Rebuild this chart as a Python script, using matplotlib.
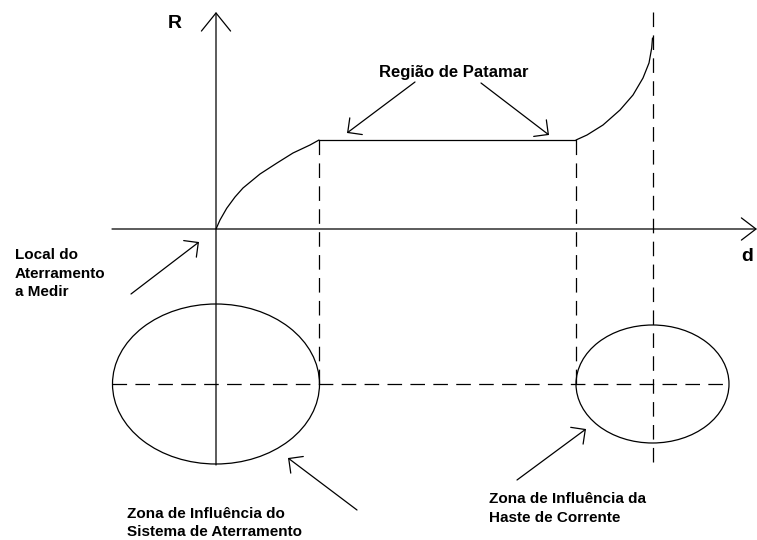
import matplotlib
matplotlib.use("Agg")
import matplotlib.pyplot as plt
from matplotlib.patches import Ellipse

plt.rcParams['lines.scale_dashes'] = False
FONT = ['Liberation Sans', 'DejaVu Sans']

# ---- data (diagram units: d to the right, R upwards, origin at axes crossing) ----
rise_d = [0, 4, 10.7, 19, 27, 44, 61, 77, 94, 103]
rise_R = [0, 9, 20.7, 32, 41, 55, 66, 76, 84, 89]
plateau_d = [103, 360]
plateau_R = [89, 89]
end_d = [360, 371, 387, 404, 417, 427, 433, 435.7, 436.5]
end_R = [89, 94, 104, 119, 134, 151, 166, 181, 191]

zone_ground = dict(center=(0, -155), width=207, height=160)
zone_rod = dict(center=(436.5, -155), width=153, height=118)

axis_label_R = "R"
axis_label_d = "d"
label_plateau = "Região de Patamar"
label_local = "Local do\nAterramento\na Medir"
label_zone_ground = "Zona de Influência do\nSistema de Aterramento"
label_zone_rod = "Zona de Influência da\nHaste de Corrente"

fig = plt.figure(figsize=(7.57, 5.40), dpi=100)
ax = fig.add_axes([0, 0, 1, 1])
ax.set_xlim(-216, 541)
ax.set_ylim(-311, 229)
ax.axis('off')

LW = 0.9
K = 'black'
DASH = (0, (10.5, 6))

def arrow(tail, tip, hl, hw):
    ax.annotate('', xy=tip, xytext=tail,
                arrowprops=dict(arrowstyle=f'->,head_length={hl},head_width={hw}',
                                lw=LW, color=K, shrinkA=0, shrinkB=0),
                annotation_clip=False)

# axes
arrow((0, -236), (0, 217), 1.3, 1.05)
arrow((-104, 0), (541, 0), 1.05, 0.8)

# curve
curve_kw = dict(color=K, lw=LW, solid_joinstyle='round', solid_capstyle='round')
ax.plot(rise_d, rise_R, **curve_kw)
ax.plot(plateau_d, plateau_R, **curve_kw)
ax.plot(end_d, end_R, **curve_kw)

# dashed guides
ax.plot([rise_d[-1], rise_d[-1]], [rise_R[-1], zone_ground['center'][1]], color=K, lw=LW, linestyle=DASH)
ax.plot([end_d[0], end_d[0]], [end_R[0], zone_ground['center'][1]], color=K, lw=LW, linestyle=DASH)
ax.plot([end_d[-1], end_d[-1]], [217, -234], color=K, lw=LW, linestyle=DASH)
ax.plot([-104, 513], [-155, -155], color=K, lw=LW, linestyle=DASH)

# zones
for z in (zone_ground, zone_rod):
    ax.add_patch(Ellipse(z['center'], z['width'], z['height'], fill=False, ec=K, lw=LW))

# annotation arrows
arrow((199, 147), (131, 96), 0.75, 0.75)
arrow((265, 146), (333, 94), 0.75, 0.75)
arrow((-85, -65), (-17, -13), 0.75, 0.75)
arrow((141, -281), (72, -229), 0.75, 0.75)
arrow((301, -251), (370, -200), 0.75, 0.75)

# texts
tk = dict(family=FONT, fontweight='bold', color=K)
ax.text(-41, 205.5, axis_label_R, ha='center', va='center', fontsize=14, **tk)
ax.text(531.5, -27.5, axis_label_d, ha='center', va='center', fontsize=14, **tk)
ax.text(238, 152, label_plateau, ha='center', va='baseline', fontsize=12, **tk)
ax.text(-201, -19, label_local, ha='left', va='top', fontsize=11, linespacing=1.43, **tk)
ax.text(-89, -278, label_zone_ground, ha='left', va='top', fontsize=11, linespacing=1.32, **tk)
ax.text(273, -263, label_zone_rod, ha='left', va='top', fontsize=11, linespacing=1.43, **tk)

fig.savefig('out.png', dpi=100)
